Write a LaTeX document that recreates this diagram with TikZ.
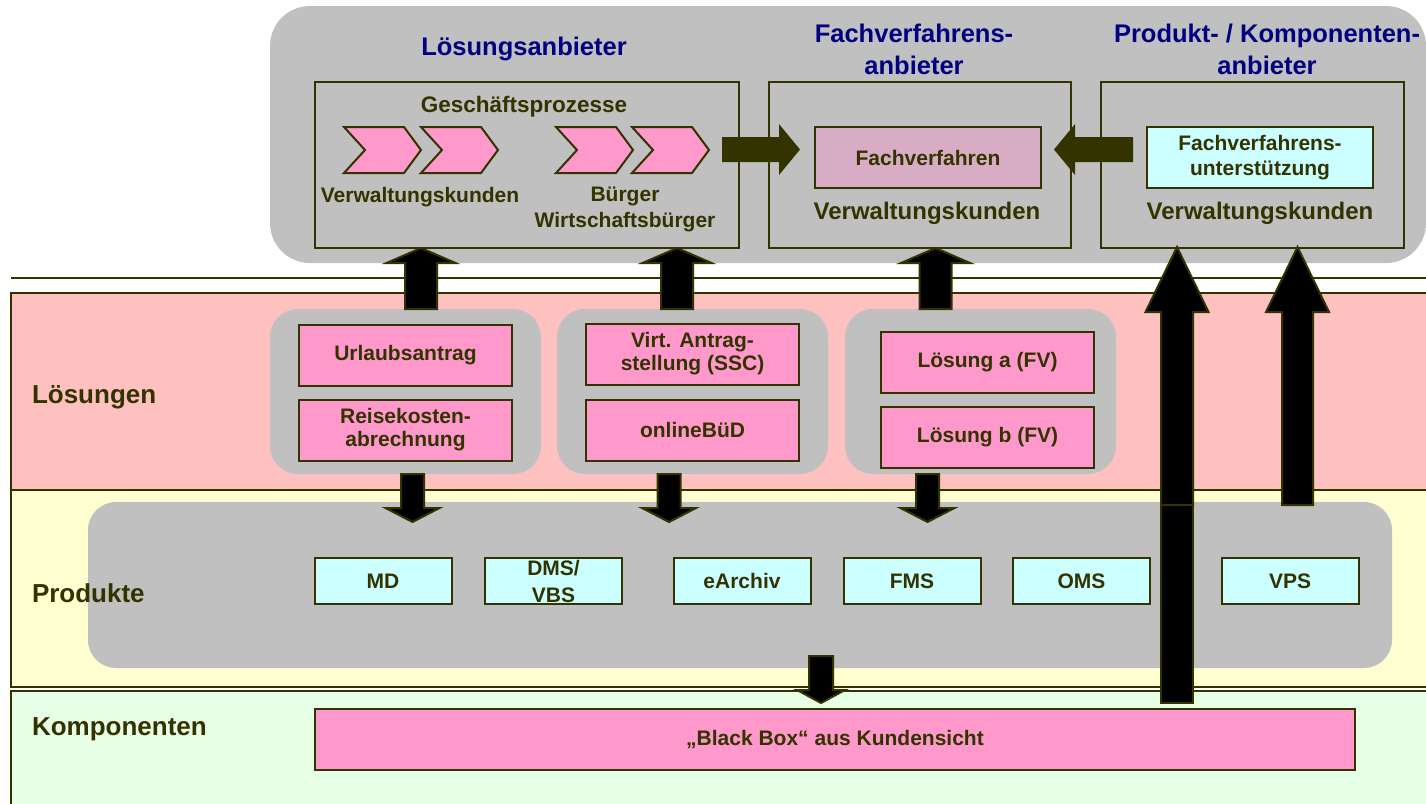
\documentclass[tikz,border=0pt]{standalone}
\usepackage{fontspec}
\setmainfont{Liberation Sans}
\definecolor{ol}{HTML}{333300}
\definecolor{navyT}{HTML}{000080}
\definecolor{pinkband}{HTML}{FFC0C0}
\definecolor{yellowband}{HTML}{FFFFD2}
\definecolor{greenband}{HTML}{E6FFE6}
\definecolor{grayb}{HTML}{C0C0C0}
\definecolor{pk}{HTML}{FF99CC}
\definecolor{cy}{HTML}{CCFFFF}
\definecolor{mauve}{HTML}{D8ACC4}
\tikzset{
  every node/.style={inner sep=0pt, outer sep=0pt},
  tt/.style={text=navyT, font=\fontsize{25.5}{32}\selectfont\bfseries, align=center},
  bandlbl/.style={text=ol, font=\fontsize{26}{30}\selectfont\bfseries, anchor=west},
  lbl/.style={text=ol, font=\fontsize{21}{26}\selectfont\bfseries, align=center},
  biglbl/.style={text=ol, font=\fontsize{24}{28}\selectfont\bfseries, align=center},
  frame/.style={draw=ol, line width=2pt},
  band/.style={draw=ol, line width=2pt},
  sbox/.style={draw=ol, line width=2pt, text=ol, font=\fontsize{21}{23}\selectfont\bfseries, align=center},
  pbox/.style={sbox, fill=pk, minimum width=213pt, minimum height=61pt},
  cbox/.style={sbox, fill=cy, minimum width=137pt, minimum height=46pt, font=\fontsize{21}{27}\selectfont\bfseries},
  barrow/.style={fill=black, draw=ol, line width=2pt, line join=miter},
  harrow/.style={fill=ol},
  chev/.style={fill=pk, draw=ol, line width=2pt, line join=miter},
  grp/.style={fill=grayb, rounded corners=28pt},
}
% vertical block arrow: cx, ystart, yheadbase, ytip, halfshaft, halfhead
\newcommand\varrow[6]{%
  \draw[barrow] ({#1-#5},#2) -- ({#1-#5},#3) -- ({#1-#6},#3) -- (#1,#4) -- ({#1+#6},#3) -- ({#1+#5},#3) -- ({#1+#5},#2) -- cycle;}
% horizontal block arrow: cy, xstart, xheadbase, xtip, halfshaft, halfhead
\newcommand\harrow[6]{%
  \fill[harrow] (#2,{#1-#5}) -- (#3,{#1-#5}) -- (#3,{#1-#6}) -- (#4,#1) -- (#3,{#1+#6}) -- (#3,{#1+#5}) -- (#2,{#1+#5}) -- cycle;}
\newcommand\chevron[1]{%
  \draw[chev] (#1,127) -- ({#1+60},127) -- ({#1+77},150) -- ({#1+60},173) -- (#1,173) -- ({#1+21},150) -- cycle;}
\begin{document}
\begin{tikzpicture}[x=1pt, y=-1pt]
\useasboundingbox (0,0) rectangle (1426,803);
\clip (0,0) rectangle (1426,803);
\fill[white] (0,0) rectangle (1426,803);

% separator line and layer bands
\coordinate (sepL) at (11,278);
\coordinate (sepR) at (1430,278);
\draw[ol, line width=2pt] (sepL) -- (sepR);
\draw[band, fill=pinkband] (11,293) rectangle (1430,490);
\draw[band, fill=yellowband] (11,490) rectangle (1430,686.5);
\draw[band, fill=greenband] (11,690.5) rectangle (1430,810);

% top provider area
\fill[grayb, rounded corners=40pt] (270,6) rectangle (1426,263);
\draw[frame] (315,82) rectangle (739,248);
\draw[frame] (769,82) rectangle (1071,248);
\draw[frame] (1101,82) rectangle (1404,248);
\node[tt] (tLA) at (524,49) {Lösungsanbieter};
\node[tt] (tFA) at (914,49) {Fachverfahrens-\\anbieter};
\node[tt] (tPA) at (1267,49) {Produkt- / Komponenten-\\anbieter};

\node[lbl, font=\fontsize{22.5}{26}\selectfont\bfseries] (gp) at (524,107) {Geschäftsprozesse};
\chevron{344}
\chevron{421}
\chevron{556}
\chevron{632}
\node[lbl] (vk1) at (420,197) {Verwaltungskunden};
\node[lbl] (bu) at (625,209) {Bürger\\Wirtschaftsbürger};

\node[sbox, fill=mauve, minimum width=226pt, minimum height=61pt] (fv) at (928,157.5) {Fachverfahren};
\node[biglbl] (vk2) at (927,213) {Verwaltungskunden};
\node[sbox, fill=cy, minimum width=226pt, minimum height=61pt, font=\fontsize{21}{25}\selectfont\bfseries] (fvu) at (1260,157.5) {Fachverfahrens-\\unterstützung};
\node[biglbl] (vk3) at (1260,213) {Verwaltungskunden};

% solution groups
\fill[grp] (270,309) rectangle (541,474);
\fill[grp] (557,309) rectangle (828,474);
\fill[grp] (845,309) rectangle (1116,474);
\node[pbox] (ua) at (405.5,355) {Urlaubsantrag};
\node[pbox] (rk) at (405.5,430) {Reisekosten-\\abrechnung};
\node[pbox] (va) at (692.5,354) {Virt. Antrag-\\stellung (SSC)};
\node[pbox] (ob) at (692.5,430) {onlineBüD};
\node[pbox] (la) at (987.5,362) {Lösung a (FV)};
\node[pbox] (lb) at (987.5,437) {Lösung b (FV)};

% products
\fill[grp] (88,502) rectangle (1392,668);
\node[cbox] (md) at (383,581) {MD};
\node[cbox] (dms) at (553.5,581) {DMS/\\VBS};
\node[cbox] (ea) at (742,581) {eArchiv};
\node[cbox] (fms) at (912,581) {FMS};
\node[cbox] (oms) at (1081.5,581) {OMS};
\node[cbox] (vps) at (1290,581) {VPS};

% components
\node[sbox, fill=pk, minimum width=1040pt, minimum height=61pt] (bb) at (835,739.5) {„Black Box“ aus Kundensicht};

% layer labels
\node[bandlbl] (lLoes) at (32,397) {Lösungen};
\node[bandlbl] (lProd) at (32,593) {Produkte};
\node[bandlbl] (lKomp) at (32,729) {Komponenten};

% horizontal arrows
\harrow{149.5}{722}{779}{800}{12.5}{25.5}
\harrow{149.5}{1133}{1075}{1054}{12.5}{25.5}

% up arrows
\varrow{421}{309}{263}{248}{16}{34.5}
\varrow{677}{309}{263}{248}{16}{34.5}
\varrow{935.5}{309}{263}{248}{16}{34.5}
\draw[barrow] (1161,504) rectangle (1193,703);
\varrow{1177}{505}{312}{247}{16}{31.5}
\varrow{1297.5}{505}{312}{247}{15.5}{31.5}

% down arrows
\varrow{412.5}{474}{508}{522}{11.5}{27}
\varrow{669}{474}{508}{522}{11.5}{27}
\varrow{927.5}{474}{508}{522}{11.5}{27}
\varrow{821}{656}{690}{703}{12}{24}
\end{tikzpicture}
\end{document}
